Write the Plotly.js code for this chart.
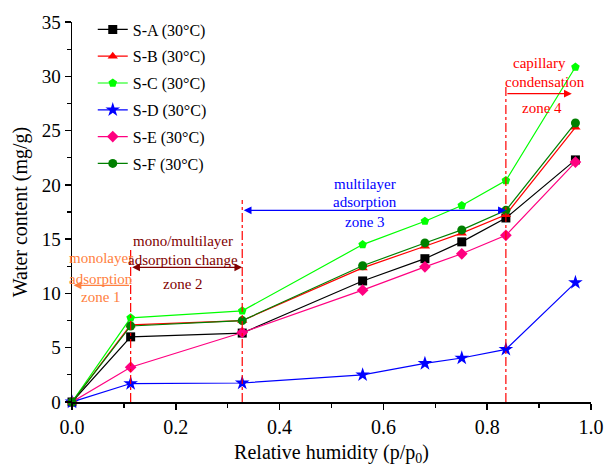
<!DOCTYPE html>
<html><head><meta charset="utf-8">
<script src="https://cdn.plot.ly/plotly-3.0.1.min.js"></script>
<style>body{margin:0;background:#fff}#chart{width:604px;height:466px}</style>
</head><body><div id="chart"></div>
<script>
const rh = [0, 0.113, 0.328, 0.56, 0.68, 0.751, 0.836, 0.97];
const seriesNames = ["S-A (30°C)", "S-B (30°C)", "S-C (30°C)", "S-D (30°C)", "S-E (30°C)", "S-F (30°C)"];
const sA = [0, 6.0, 6.35, 11.15, 13.2, 14.75, 16.95, 22.3];
const sB = [0, 7.1, 7.5, 12.35, 14.35, 15.55, 17.25, 25.3];
const sC = [0, 7.75, 8.4, 14.5, 16.65, 18.1, 20.4, 30.85];
const sD = [0, 1.7, 1.75, 2.5, 3.55, 4.05, 4.85, 11.0];
const sE = [0, 3.2, 6.4, 10.3, 12.45, 13.65, 15.35, 22.1];
const sF = [0, 7.0, 7.5, 12.55, 14.65, 15.85, 17.65, 25.7];
const seriesValues = [sA, sB, sC, sD, sE, sF];
const colors = ["#000000", "#FF0000", "#00FF00", "#0000FF", "#FF0080", "#008000"];
const symbols = ["square", "triangle-up", "pentagon", "star", "diamond", "circle"];
const zoneBounds = [0.113, 0.328, 0.836];

const serif = "Liberation Serif, Times New Roman, serif";
const traces = seriesValues.map((v, i) => ({
  x: rh, y: v, type: "scatter", mode: "lines+markers", name: seriesNames[i],
  legendgroup: "g" + i,
  line: {color: colors[i], width: 1.2},
  marker: {symbol: symbols[i], color: colors[i], size: i === 3 ? 11 : 9, line: {width: 0}},
  cliponaxis: false
}));

const zoneTops = [14.0, 18.6, 29.3];
const shapes = zoneBounds.map((b, i) => ({
  type: "line", xref: "x", yref: "y", x0: b, x1: b, y0: 0, y1: zoneTops[i],
  line: {color: "#FF0000", width: 1.2, dash: "dashdot"}
}));

function arrow(x, y, ax, ay, color, both) {
  return {xref: "x", yref: "y", axref: "x", ayref: "y", x: x, y: y, ax: ax, ay: ay,
    text: "", showarrow: true, arrowhead: 2, arrowsize: 1.3, arrowwidth: 1.2,
    arrowcolor: color, arrowside: both ? "end+start" : "end", standoff: 0, startstandoff: 0};
}
function label(x, y, txt, color) {
  return {xref: "x", yref: "y", x: x, y: y, text: txt, showarrow: false,
    font: {family: serif, size: 15, color: color}, align: "center", xanchor: "center", yanchor: "middle"};
}
const annotations = [
  arrow(0.003, 10.75, 0.113, 10.75, "#FF8040", false),
  arrow(0.328, 12.4, 0.113, 12.4, "#800000", true),
  arrow(0.836, 17.65, 0.328, 17.65, "#0000FF", true),
  arrow(0.963, 28.4, 0.836, 28.4, "#FF0000", false),
  label(0.056, 13.25, "monolayer", "#FF8040"),
  label(0.056, 11.35, "adsorption", "#FF8040"),
  label(0.056, 9.65, "zone 1", "#FF8040"),
  label(0.2145, 14.8, "mono/multilayer", "#800000"),
  label(0.2145, 13.1, "adsorption change", "#800000"),
  label(0.2145, 10.9, "zone 2", "#800000"),
  label(0.565, 20.1, "multilayer", "#0000FF"),
  label(0.565, 18.4, "adsorption", "#0000FF"),
  label(0.565, 16.55, "zone 3", "#0000FF"),
  label(0.9, 31.2, "capillary", "#FF0000"),
  label(0.911, 29.5, "condensation", "#FF0000"),
  label(0.905, 27.1, "zone 4", "#FF0000")
];

const layout = {
  width: 604, height: 466,
  margin: {l: 72, r: 13, t: 22, b: 64},
  paper_bgcolor: "#fff", plot_bgcolor: "#fff",
  font: {family: serif, color: "#000"},
  showlegend: true,
  legend: {x: 0.04, y: 1.025, xanchor: "left", yanchor: "top", bgcolor: "rgba(0,0,0,0)",
    font: {family: serif, size: 16, color: "#000"}, tracegroupgap: 3, traceorder: "grouped"},
  xaxis: {range: [0, 1], dtick: 0.2, tickformat: ".1f", showgrid: false, zeroline: false,
    showline: true, linecolor: "#000", linewidth: 1.5, ticks: "outside", ticklen: 6, tickwidth: 1.5, tickcolor: "#000",
    minor: {dtick: 0.1, ticks: "outside", ticklen: 4, tickwidth: 1.2, tickcolor: "#000"},
    tickfont: {family: serif, size: 20, color: "#000"},
    title: {text: "Relative humidity (p/p<sub>0</sub>)", font: {family: serif, size: 20, color: "#000"}, standoff: 10}},
  yaxis: {range: [0, 35], dtick: 5, showgrid: false, zeroline: false,
    showline: true, linecolor: "#000", linewidth: 1.5, ticks: "outside", ticklen: 6, tickwidth: 1.5, tickcolor: "#000",
    minor: {dtick: 2.5, ticks: "outside", ticklen: 4, tickwidth: 1.2, tickcolor: "#000"},
    tickfont: {family: serif, size: 19, color: "#000"},
    title: {text: "Water content (mg/g)", font: {family: serif, size: 20, color: "#000"}, standoff: 8}},
  shapes: shapes,
  annotations: annotations
};
Plotly.newPlot("chart", traces, layout, {displayModeBar: false, staticPlot: true});
</script></body></html>
